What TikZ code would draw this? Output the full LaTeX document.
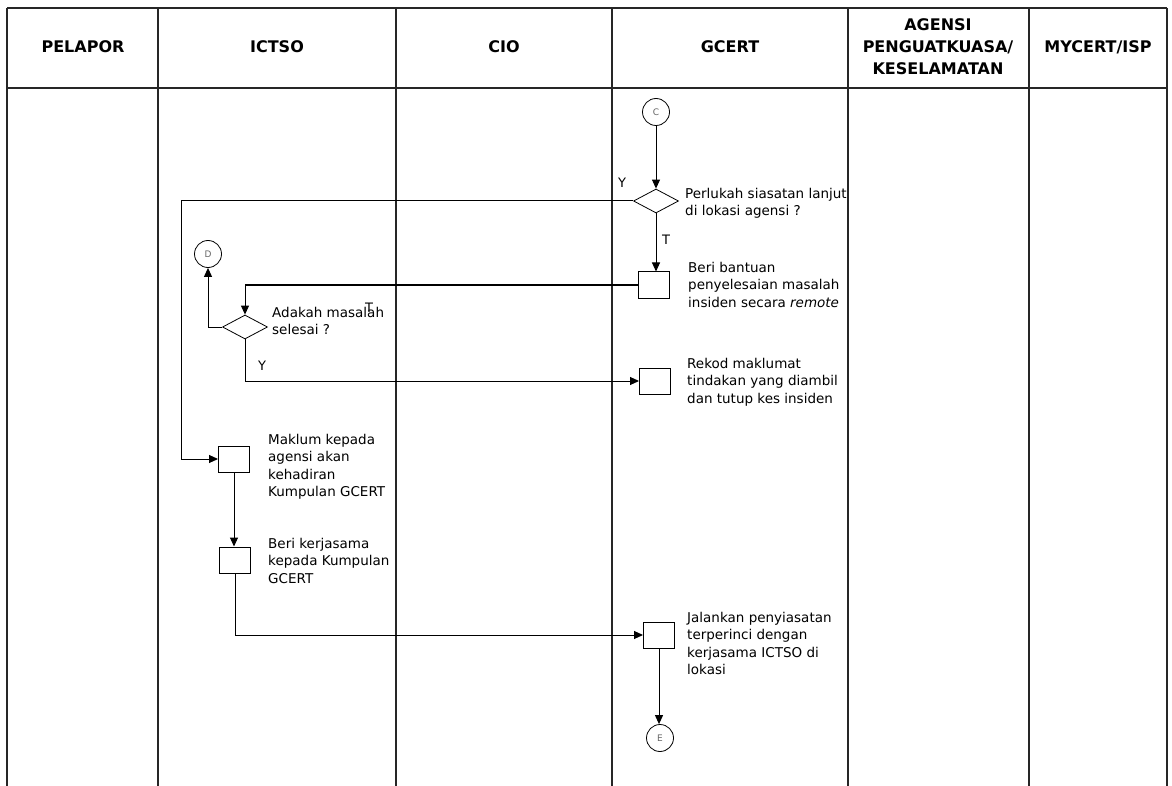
\documentclass[tikz,border=0pt]{standalone}
\usepackage{fontspec}
\setmainfont{DejaVu Sans}
\newfontfamily\hdrfont{DejaVu Sans}[BoldFont={DejaVu Sans Bold}]
\usetikzlibrary{arrows.meta,shapes.geometric}
\begin{document}
\begin{tikzpicture}[x=1pt,y=-1pt,
  grid/.style={line width=1.3pt,black!85},
  hdr/.style={font=\hdrfont\bfseries\fontsize{16}{22}\selectfont,align=center,inner sep=0},
  conn/.style={circle,draw,line width=0.8pt,minimum size=27pt,inner sep=0,font=\fontsize{9}{10}\selectfont,text=black!60},
  dec/.style={diamond,draw,line width=0.8pt,minimum width=45pt,minimum height=24pt,inner sep=0,aspect=1.9},
  proc/.style={rectangle,draw,line width=1pt,minimum width=31pt,minimum height=26pt,inner sep=0},
  txt/.style={anchor=north west,align=left,inner sep=0,font=\fontsize{13.5}{17.5}\selectfont},
  lbl/.style={inner sep=0,font=\fontsize{13}{15}\selectfont},
  arr/.style={line width=1pt,-{Triangle[length=9pt,width=8pt]}},
  ln/.style={line width=1pt}]
\useasboundingbox (0,0) rectangle (1172,786);
\fill[white] (0,0) rectangle (1172,786);
% table
\draw[grid] (7,8) -- (1167,8);
\draw[grid] (7,88) -- (1167,88);
\foreach \xx in {7,158,396,612,848,1029,1167}
  \draw[grid] (\xx,8) -- (\xx,786);
% headers
\node[hdr] (h1) at (83,47) {PELAPOR};
\node[hdr] (h2) at (277,47) {ICTSO};
\node[hdr] (h3) at (504,47) {CIO};
\node[hdr] (h4) at (730,47) {GCERT};
\node[hdr] (h5) at (938,47) {AGENSI\\PENGUATKUASA/\\KESELAMATAN};
\node[hdr] (h6) at (1098,47) {MYCERT/ISP};
% nodes
\node[conn] (C) at (656,112) {C};
\node[dec] (d1) at (656,201) {};
\node[proc] (b1) at (654,285) {};
\node[dec] (d2) at (245,327) {};
\node[conn] (D) at (208,254) {D};
\node[proc] (r1) at (655,381) {};
\node[proc] (m1) at (234,459) {};
\node[proc] (k1) at (235,560) {};
\node[proc] (j1) at (659,635) {};
\node[conn] (E) at (660,738) {E};
\coordinate (ycorner) at (181,201);
% texts
\node[txt] (t1) at (685,188) {Perlukah siasatan lanjut\\di lokasi agensi ?};
\node[txt] (t2) at (688,262) {Beri bantuan\\penyelesaian masalah\\insiden secara \textit{remote}};
\node[txt] (t3) at (272,307) {Adakah masalah\\selesai ?};
\node[txt] (t4) at (687,358) {Rekod maklumat\\tindakan yang diambil\\dan tutup kes insiden};
\node[txt] (t5) at (268,434) {Maklum kepada\\agensi akan\\kehadiran\\Kumpulan GCERT};
\node[txt] (t6) at (268,538) {Beri kerjasama\\kepada Kumpulan\\GCERT};
\node[txt] (t7) at (687,612) {Jalankan penyiasatan\\terperinci dengan\\kerjasama ICTSO di\\lokasi};
% labels
\node[lbl] (ly1) at (622,183) {Y};
\node[lbl] (lt1) at (666,240) {T};
\node[lbl] (lt2) at (369,308) {T};
\node[lbl] (ly2) at (262,366) {Y};
% connectors
\draw[arr] (C) -- (d1.north);
\draw[ln] (d1.west) -- (ycorner);
\draw[arr] (ycorner) |- (m1.west);
\draw[arr] (d1.south) -- (d1.south |- b1.north);
\draw[arr] (b1.west) -| (d2.north);
\draw[arr] (d2.west) -| (D.south);
\draw[arr] (d2.south) |- (r1.west);
\draw[arr] (m1.south) -- (m1.south |- k1.north);
\draw[arr] (k1.south) |- (j1.west);
\draw[arr] (j1.south) -- (j1.south |- E.north);
\end{tikzpicture}
\end{document}
